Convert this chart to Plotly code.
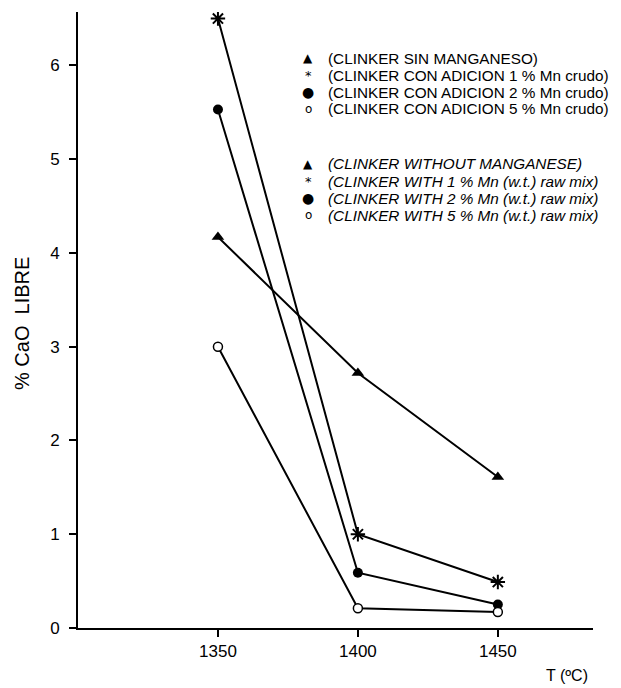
import plotly.graph_objects as go

temps = [1350, 1400, 1450]
sin_mn = [4.17, 2.72, 1.61]
mn1 = [6.5, 1.0, 0.49]
mn2 = [5.53, 0.59, 0.25]
mn5 = [3.0, 0.21, 0.17]

x_ticks = [1350, 1400, 1450]
y_ticks = [0, 1, 2, 3, 4, 5, 6]

legend_es = ["(CLINKER SIN MANGANESO)",
             "(CLINKER CON ADICION 1 % Mn crudo)",
             "(CLINKER CON ADICION 2 % Mn crudo)",
             "(CLINKER CON ADICION 5 % Mn crudo)"]
legend_en = ["(CLINKER WITHOUT MANGANESE)",
             "(CLINKER WITH 1 % Mn (w.t.) raw mix)",
             "(CLINKER WITH 2 % Mn (w.t.) raw mix)",
             "(CLINKER WITH 5 % Mn (w.t.) raw mix)"]
legend_syms = ["▲", "*", "●", "o"]

FONT = "Liberation Sans"
fig = go.Figure()

line = dict(color="black", width=2)
fig.add_trace(go.Scatter(x=temps, y=sin_mn, mode="lines+markers", line=line,
                         marker=dict(symbol="triangle-up", size=11, color="black"),
                         showlegend=False))
fig.add_trace(go.Scatter(x=temps, y=mn1, mode="lines+markers", line=line,
                         marker=dict(symbol="asterisk-open", size=12, color="black",
                                     line=dict(color="black", width=2)),
                         showlegend=False))
fig.add_trace(go.Scatter(x=temps, y=mn2, mode="lines+markers", line=line,
                         marker=dict(symbol="circle", size=10, color="black"),
                         showlegend=False))
fig.add_trace(go.Scatter(x=temps, y=mn5, mode="lines+markers", line=line,
                         marker=dict(symbol="circle", size=9, color="white",
                                     line=dict(color="black", width=1.5)),
                         showlegend=False))

# page has an 8px body margin; plot area on screen: x 78..593, y 12..628
def px_x(p):
    return (p - 78) / 515.0

def px_y(p):
    return (628 - p) / 616.0

sym_sizes = [12, 13, 14, 12]
for i in range(4):
    for block, y0, italic in ((legend_es, 58, False), (legend_en, 164, True)):
        yy = px_y(y0 + 17 * i)
        fig.add_annotation(x=px_x(308), y=yy, xref="paper", yref="paper",
                           text=legend_syms[i], showarrow=False,
                           xanchor="center", yanchor="middle",
                           font=dict(family="DejaVu Sans", size=sym_sizes[i], color="black"))
        txt = block[i]
        if italic:
            txt = "<i>" + txt + "</i>"
        fig.add_annotation(x=px_x(326), y=yy, xref="paper", yref="paper",
                           text=txt, showarrow=False, xanchor="left", yanchor="middle",
                           font=dict(family=FONT, size=15.3, color="black"))

fig.add_annotation(x=px_x(567), y=px_y(675), xref="paper", yref="paper",
                   text="T (ºC)", showarrow=False, xanchor="center", yanchor="middle",
                   font=dict(family=FONT, size=16, color="black"))
fig.add_annotation(x=px_x(22), y=px_y(324), xref="paper", yref="paper",
                   text="% CaO  LIBRE", showarrow=False, textangle=-90,
                   xanchor="center", yanchor="middle",
                   font=dict(family=FONT, size=20, color="black"))

fig.update_xaxes(range=[1300, 1484], tickvals=x_ticks, ticks="outside", ticklen=7,
                 tickwidth=1.5, tickcolor="black", showline=True, linecolor="black",
                 linewidth=2, showgrid=False, zeroline=False,
                 tickfont=dict(family=FONT, size=17, color="black"))
fig.update_yaxes(range=[0, 6.57], tickvals=y_ticks, ticks="outside", ticklen=7,
                 tickwidth=1.5, tickcolor="black", showline=True, linecolor="black",
                 linewidth=2, showgrid=False, zeroline=False, ticklabelstandoff=6,
                 tickfont=dict(family=FONT, size=17, color="black"))

fig.update_layout(width=613, height=680, margin=dict(l=70, r=28, t=4, b=60),
                  plot_bgcolor="white", paper_bgcolor="white", showlegend=False)

fig.write_html("out.html")
